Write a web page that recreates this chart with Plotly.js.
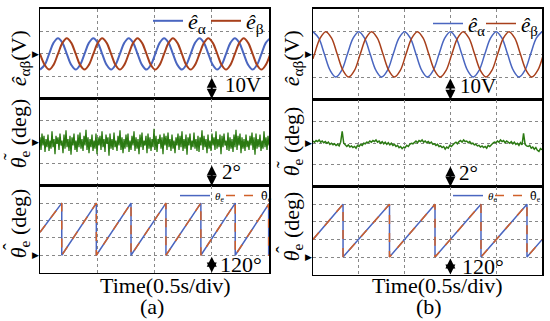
<!DOCTYPE html>
<html><head><meta charset="utf-8">
<script src="https://cdn.plot.ly/plotly-3.0.1.min.js"></script>
<style>html,body{margin:0;padding:0;background:#fff}#chart{width:550px;height:321px}</style>
</head><body><div id="chart"></div>
<script>
// ---------- Panel (a) ----------
const tSineA = [0,0.041,0.080,0.118,0.157,0.196,0.234,0.273,0.312,0.350,0.389,0.427,0.466,0.505,0.543,0.582,0.621,0.659,0.698,0.736,0.775,0.814,0.852,0.891,0.930,0.968,1.007,1.045,1.084,1.123,1.161,1.200,1.239,1.277,1.316,1.354,1.393,1.432,1.470,1.509,1.548,1.586,1.625,1.663,1.702,1.741,1.779,1.818,1.857,1.895,1.934,1.972,2.011];
const eAlphaA = [-7,-4.9,0,4.9,7,4.9,0,-4.9,-7,-4.9,0,4.9,7,4.9,0,-4.9,-7,-4.9,0,4.9,7,4.9,0,-4.9,-7,-4.9,0,4.9,7,4.9,0,-4.9,-7,-4.9,0,4.9,7,4.9,0,-4.9,-7,-4.9,0,4.9,7,4.9,0,-4.9,-7,-4.9,0,4.9,7];
const eBetaA  = [0,-4.9,-7,-4.9,0,4.9,7,4.9,0,-4.9,-7,-4.9,0,4.9,7,4.9,0,-4.9,-7,-4.9,0,4.9,7,4.9,0,-4.9,-7,-4.9,0,4.9,7,4.9,0,-4.9,-7,-4.9,0,4.9,7,4.9,0,-4.9,-7,-4.9,0,4.9,7,4.9,0,-4.9,-7,-4.9,0];
const errDtA = 2/229;
const errA = [0.45,-0.7,0.8,-0.3,0.6,-0.9,0.3,-0.45,0.7,-0.8,
 0.15,-0.6,1.0,-0.45,0.3,-1.1,0.6,-0.15,0.45,-0.7,
 0.8,-0.3,0.15,-1.0,0.7,-0.6,1.1,-0.45,0.3,-0.8,
 0.6,-1.15,0.45,-0.3,0.8,-0.7,0.15,-0.9,0.7,-0.45,
 0.9,-0.6,0.3,-0.8,0.6,-0.3,1.15,-0.7,0.45,-1.0,
 0.3,-0.45,0.7,-0.8,0.15,-0.6,0.8,-1.1,0.45,-0.3,
 0.6,-0.7,1.0,-0.45,0.3,-0.9,0.7,-0.15,0.45,-1.25,
 0.8,-0.6,0.3,-0.7,0.9,-0.45,0.15,-0.8,0.6,-0.3,
 1.1,-0.7,0.45,-1.0,0.3,-0.6,0.7,-0.45,0.8,-0.9,
 0.15,-0.7,0.6,-0.3,1.0,-0.8,0.45,-0.6,0.3,-1.1,
 0.7,-0.45,0.9,-0.7,0.15,-0.3,0.6,-1.0,0.8,-0.6,
 0.45,-0.8,0.3,-0.45,1.25,-0.7,0.6,-0.9,0.3,-0.15,
 0.7,-0.6,0.45,-1.1,0.8,-0.3,0.6,-0.7,0.9,-0.45,
 0.3,-0.8,0.7,-0.6,0.15,-1.0,0.45,-0.3,0.8,-0.7,
 0.6,-0.45,1.0,-0.8,0.3,-0.6,0.7,-1.15,0.45,-0.3,
 0.8,-0.7,0.15,-0.45,0.9,-0.6,0.3,-0.8,0.6,-0.9,
 0.45,-0.3,1.1,-0.7,0.6,-0.45,0.3,-1.0,0.7,-0.6,
 0.15,-0.8,0.8,-0.3,0.45,-0.7,1.0,-0.6,0.3,-0.45,
 0.7,-1.1,0.6,-0.45,0.8,-0.3,0.15,-0.7,0.9,-0.8,
 0.45,-0.6,0.3,-0.9,0.7,-0.45,1.15,-0.7,0.6,-0.3,
 0.8,-1.0,0.45,-0.6,0.3,-0.8,0.7,-0.45,0.15,-0.7,
 0.6,-0.3,0.9,-0.7,0.45,-1.15,0.8,-0.6,0.3,-0.45,
 0.7,-0.8,0.15,-0.6,1.0,-0.45,0.45,-0.7,0.6,-0.3];
const tSawA = [0,0.19,0.19,0.492,0.492,0.795,0.795,1.10,1.10,1.405,1.405,1.705,1.705,1.997,1.997,2.0];
const thetaA    = [158,360,0,360,0,360,0,360,0,360,0,360,0,352,0,0];
const thetaHatA = [158,360,0,360,0,360,0,360,0,360,0,360,0,352,0,0];

// ---------- Panel (b) ----------
const tAlphaB = [0,0.063,0.125,0.188,0.25,0.313,0.375,0.438,0.5,0.563,0.625,0.688,0.75,0.813,0.875,0.938,1.0,1.063,1.125,1.188,1.25,1.313,1.375,1.438,1.5,1.563,1.625,1.688,1.75,1.813,1.875,1.938,2.0,2.063,2.125,2.188,2.25,2.313,2.375,2.438,2.5];
const eAlphaB = [10,7.1,0,-7.1,-10,-7.1,0,7.1,10,7.1,0,-7.1,-10,-7.1,0,7.1,10,7.1,0,-7.1,-10,-7.1,0,7.1,10,7.1,0,-7.1,-10,-7.1,0,7.1,10,7.1,0,-7.1,-10,-7.1,0,7.1,10];
const tBetaB = [0,0.015,0.078,0.14,0.203,0.265,0.328,0.39,0.453,0.515,0.578,0.64,0.703,0.765,0.828,0.89,0.953,1.015,1.078,1.14,1.203,1.265,1.328,1.39,1.453,1.515,1.578,1.64,1.703,1.765,1.828,1.89,1.953,2.015,2.078,2.14,2.203,2.265,2.328,2.39,2.453,2.515];
const eBetaB = [-1.9,0,7.1,10,7.1,0,-7.1,-10,-7.1,0,7.1,10,7.1,0,-7.1,-10,-7.1,0,7.1,10,7.1,0,-7.1,-10,-7.1,0,7.1,10,7.1,0,-7.1,-10,-7.1,0,7.1,10,7.1,0,-7.1,-10,-7.1,0];
const errDtB = 2.5/149;
const errB = [0.2,0.1,0.25,0.15,0.3,0.1,0.2,0.05,0.15,0.0,
 0.1,-0.1,0.0,-0.15,-0.05,-0.2,-0.1,-0.25,0.1,1.1,
 0.0,-0.2,-0.3,-0.15,-0.35,-0.25,-0.4,-0.3,-0.45,-0.2,
 -0.3,-0.1,-0.2,0.0,-0.05,0.1,0.05,0.2,0.1,0.25,
 0.15,0.3,0.1,0.2,0.0,0.15,-0.05,0.1,-0.1,0.05,
 -0.15,0.0,-0.2,-0.1,-0.3,-0.2,-0.4,-0.3,-0.5,-0.35,
 -0.4,-0.2,-0.3,-0.1,0.0,-0.05,0.1,0.2,0.05,0.25,
 0.15,0.3,0.1,0.2,0.05,0.15,0.0,0.1,-0.1,-0.05,
 -0.2,-0.1,-0.3,-0.25,-0.4,-0.3,-0.55,-0.35,-0.45,-0.2,
 -0.3,-0.1,0.0,0.1,-0.05,0.15,0.25,0.1,0.3,0.15,
 0.2,0.05,0.15,-0.05,0.0,-0.15,-0.1,-0.25,-0.2,-0.35,
 -0.25,-0.4,-0.3,-0.45,-0.2,-0.3,-0.1,0.0,0.1,0.05,
 0.2,0.1,0.3,0.15,0.25,0.05,0.2,0.1,0.0,0.15,
 -0.05,0.1,-0.1,0.0,-0.2,0.05,-0.15,0.9,-0.1,-0.25,
 -0.3,-0.2,-0.45,-0.35,-0.55,-0.4,-0.65,-0.75,-0.5,-0.6];
const tSawB = [0,0.328,0.328,0.835,0.835,1.332,1.332,1.834,1.834,2.336,2.336,2.5];
const thetaB    = [120,360,0,360,0,360,0,360,0,360,0,118];
const thetaHatB = [120,360,0,360,0,360,0,360,0,360,0,118];

// ---------- styles ----------
const SERIF = 'Liberation Serif, Times New Roman, serif';
const BLUE = '#4a66c0', RED = '#a8401c', GREEN = '#2b7a12', DASH = '#d0602a';
const TH_HAT_SM = '<span style="font-family:DejaVu Serif">θ̂</span>';
const TH = '<i>θ</i>';
const E_A = '<i>ê</i><sub>α</sub>', E_B = '<i>ê</i><sub>β</sub>';

const idx = (n, dt) => Array.from({length:n}, (_, i) => i*dt);
function line(x, y, xa, ya, color, width, extra) {
  return {x:x, y:y, xaxis:xa, yaxis:ya, type:'scatter', mode:'lines',
    line:Object.assign({color:color, width:width}, extra||{}), showlegend:false};
}
function withLegend(tr, name, lg) { tr.name = name; tr.legend = lg; tr.showlegend = true; return tr; }

const traces = [
  withLegend(line(tSineA, eAlphaA, 'x', 'y', BLUE, 2, {shape:'spline'}), E_A, 'legend'),
  withLegend(line(tSineA, eBetaA, 'x', 'y', RED, 2, {shape:'spline'}), E_B, 'legend2'),
  line(idx(errA.length, errDtA), errA, 'x2', 'y2', GREEN, 1.3),
  withLegend(line(tSawA, thetaA, 'x3', 'y3', BLUE, 1.5), TH+'<sub>e</sub>', 'legend3'),
  withLegend(line(tSawA, thetaHatA, 'x3', 'y3', DASH, 1.5, {dash:'dash'}), TH_HAT_SM+'<sub>e</sub>', 'legend4'),
  withLegend(line(tAlphaB, eAlphaB, 'x4', 'y4', BLUE, 1.5, {shape:'spline'}), E_A, 'legend5'),
  withLegend(line(tBetaB, eBetaB, 'x4', 'y4', RED, 1.5, {shape:'spline'}), E_B, 'legend6'),
  line(idx(errB.length, errDtB), errB, 'x5', 'y5', GREEN, 1.5),
  withLegend(line(tSawB, thetaB, 'x6', 'y6', BLUE, 1.5), TH+'<sub>e</sub>', 'legend7'),
  withLegend(line(tSawB, thetaHatB, 'x6', 'y6', DASH, 1.5, {dash:'dash'}), TH_HAT_SM+'<sub>e</sub>', 'legend8')
];

function axis(domain, range, dtick, anchor) {
  return {domain:domain, range:range, tick0:range[0], dtick:dtick, showline:true, mirror:true,
    linecolor:'#000', linewidth:1.5, showgrid:true, gridcolor:'#888', griddash:'dot', gridwidth:1,
    zeroline:false, showticklabels:false, ticks:'', anchor:anchor, fixedrange:true};
}
const H = 321, W = 550;
const py = (a, b) => [1 - b/H, 1 - a/H];
const px = (a, b) => [a/W, b/W];

function legendAt(xpx, ypx, size) {
  return {orientation:'h', x:xpx/W, y:1-ypx/H, xanchor:'left', yanchor:'middle',
    bgcolor:'rgba(0,0,0,0)', borderwidth:0, font:{family:SERIF, size:size, color:'#000'},
    itemwidth:30, tracegroupgap:0, itemclick:false};
}

const ann = [];
function dbl(xr, yr, x, y0, y1) {
  ann.push({xref:xr, yref:yr, x:x, y:y1, ax:x, ay:y0, axref:xr, ayref:yr, text:'', showarrow:true,
    arrowhead:2, arrowside:'end+start', arrowsize:1, arrowwidth:2, arrowcolor:'#000', standoff:0, startstandoff:0});
}
function txt(xr, yr, x, y, t, size, xa) {
  ann.push({xref:xr, yref:yr, x:x, y:y, text:t, showarrow:false, xanchor:xa||'left', yanchor:'middle',
    font:{family:SERIF, size:size, color:'#000'}});
}
function ylab(xp, yp, t, size) {
  ann.push({xref:'paper', yref:'paper', x:xp/W, y:1-yp/H, text:t, textangle:-90, showarrow:false,
    xanchor:'center', yanchor:'middle', font:{family:SERIF, size:size||22, color:'#000'}});
}
function tri(xr, yr, y) {
  ann.push({xref:xr, yref:yr, x:0, y:y, text:'▶', showarrow:false, xanchor:'right', yanchor:'middle', xshift:1,
    font:{family:'DejaVu Sans', size:9, color:'#000'}});
}

// scale markers panel (a)
dbl('x','y',1.5,-10,-20);   txt('x','y',1.6,-13.8,'10V',21);
dbl('x2','y2',1.5,-2,-4);   txt('x2','y2',1.57,-2.7,'2°',21);
dbl('x3','y3',1.5,0,-120);  txt('x3','y3',1.555,-62,'120°',22);
// scale markers panel (b)
dbl('x4','y4',1.5,-10,-20); txt('x4','y4',1.58,-13.8,'10V',21);
dbl('x5','y5',1.5,-2,-4);   txt('x5','y5',1.57,-2.7,'2°',21);
dbl('x6','y6',1.5,0,-120);  txt('x6','y6',1.6,-62,'120°',22);
// zero markers
tri('x','y',0); tri('x2','y2',0); tri('x3','y3',0);
tri('x4','y4',0); tri('x5','y5',0); tri('x6','y6',0);
// y labels (accent over theta drawn as its own small mark)
ylab(20,55,'<i>ê</i><sub>αβ</sub>(V)');
ylab(20,131,TH+'<sub>e</sub> (deg)');  ylab(11,155,'˜',20);
ylab(20,222,TH+'<sub>e</sub> (deg)');  ylab(11,246,'ˆ',20);
ylab(293,55,'<i>ê</i><sub>αβ</sub>(V)');
ylab(293,139,TH+'<sub>e</sub> (deg)'); ylab(284,163,'˜',20);
ylab(293,225,TH+'<sub>e</sub> (deg)'); ylab(284,249,'ˆ',20);
// x labels
txt('paper','paper',165/W,1-285/H,'Time(0.5s/div)',22,'center');
txt('paper','paper',152/W,1-306/H,'(a)',22,'center');
txt('paper','paper',437/W,1-285/H,'Time(0.5s/div)',22,'center');
txt('paper','paper',429/W,1-306/H,'(b)',22,'center');

const layout = {
  width:W, height:H, margin:{l:0,r:0,t:0,b:0}, paper_bgcolor:'#fff', plot_bgcolor:'#fff',
  showlegend:true,
  xaxis:  axis(px(40,269), [0,2], 0.5, 'y'),
  yaxis:  axis(py(5,96), [-20,20], 10, 'x'),
  xaxis2: axis(px(40,269), [0,2], 0.5, 'y2'),
  yaxis2: axis(py(96,184), [-4,4], 2, 'x2'),
  xaxis3: axis(px(40,269), [0,2], 0.5, 'y3'),
  yaxis3: axis(py(184,272), [-120,480], 120, 'x3'),
  xaxis4: axis(px(313,542), [0,2.5], 0.5, 'y4'),
  yaxis4: axis(py(5,97), [-20,20], 10, 'x4'),
  xaxis5: axis(px(313,542), [0,2.5], 0.5, 'y5'),
  yaxis5: axis(py(97,185), [-4,4], 2, 'x5'),
  xaxis6: axis(px(313,542), [0,2.5], 0.5, 'y6'),
  yaxis6: axis(py(185,274), [-120,480], 120, 'x6'),
  legend:  legendAt(148, 17, 22),
  legend2: legendAt(206, 17, 22),
  legend3: legendAt(175, 194, 11),
  legend4: legendAt(221, 194, 11),
  legend5: legendAt(428, 20, 21),
  legend6: legendAt(481, 20, 21),
  legend7: legendAt(448, 194, 11),
  legend8: legendAt(490, 194, 11),
  annotations: ann
};

Plotly.newPlot('chart', traces, layout, {staticPlot:true, displayModeBar:false});
</script></body></html>
